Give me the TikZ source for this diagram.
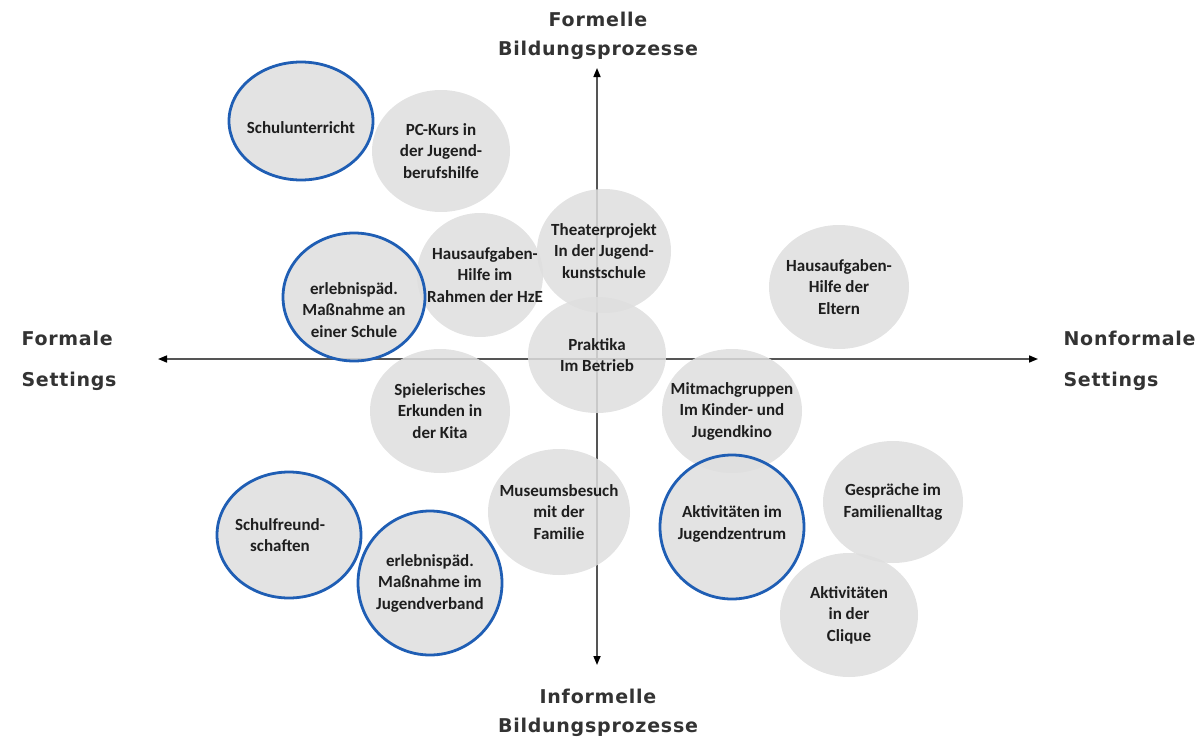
\documentclass[tikz,border=0pt]{standalone}
\usepackage{fontspec}
\setmainfont{Carlito}
\newfontfamily\axisfont[LetterSpace=4]{DejaVu Sans}
\usepackage{xcolor}
\usepackage{tikz}
\usetikzlibrary{shapes.geometric,arrows.meta}

\definecolor{ringblue}{RGB}{31,94,180}
\definecolor{bubblegray}{RGB}{222,222,222}
\definecolor{axisgray}{RGB}{85,85,85}
\definecolor{txtdark}{RGB}{30,30,30}

\tikzset{
  bubble/.style 2 args={ellipse, fill=bubblegray, fill opacity=0.85, inner sep=0pt,
    minimum width=#1, minimum height=#2},
  ringed/.style 2 args={bubble={#1}{#2}, draw=ringblue, line width=2.8pt},
  txt/.style={text=txtdark, text opacity=1, align=center, inner sep=0pt,
    font=\bfseries\fontsize{17}{21.5}\selectfont},
  axislabel/.style={text=black!80, align=center, font=\axisfont\bfseries\fontsize{19}{29}\selectfont},
  sidelabel/.style={axislabel, align=left, anchor=west, font=\axisfont\bfseries\fontsize{19}{41}\selectfont},
  axis/.style={draw=axisgray, line width=1.6pt,
    {Triangle[length=9pt,width=7pt,color=black]}-{Triangle[length=9pt,width=7pt,color=black]}}
}

\begin{document}
\begin{tikzpicture}[x=1pt, y=-1pt]
    \useasboundingbox (0,0) rectangle (1204,744);

    % axes
    \coordinate (west) at (158,359);
    \coordinate (east) at (1038,359);
    \coordinate (north) at (597,68);
    \coordinate (south) at (597,665);
    \draw[axis] (west) -- (east);
    \draw[axis] (north) -- (south);

    \node[axislabel] (formell) at (598,36) {Formelle\\Bildungsprozesse};
    \node[axislabel] (informell) at (598,713) {Informelle\\Bildungsprozesse};
    \node[sidelabel] (formal) at (18,361) {Formale\\Settings};
    \node[sidelabel] (nonformal) at (1060,361) {Nonformale\\Settings};

    % bubbles, blue rings mark the school and youth work settings
    \node[ringed={144}{118}, label={[txt, yshift=-7pt]center:Schulunterricht}] (unterricht) at (301,121) {};
    \node[bubble={138}{122}, label={[txt]center:{PC-Kurs in\\der Jugend-\\berufshilfe}}] (pckurs) at (441,151) {};
    \node[bubble={126}{124}, label={[txt, xshift=5pt]center:{Hausaufgaben-\\Hilfe im\\Rahmen der HzE}}] (hze) at (480,275) {};
    \node[bubble={134}{124}, label={[txt]center:{Theaterprojekt\\In der Jugend-\\kunstschule}}] (theater) at (604,251) {};
    \node[ringed={142}{128}, label={[txt, yshift=-13pt]center:{erlebnispäd.\\Maßnahme an\\einer Schule}}] (schule) at (354,297) {};
    \node[bubble={138}{116}, label={[txt]center:{Praktika\\Im Betrieb}}] (praktika) at (597,355) {};
    \node[bubble={140}{124}, label={[txt]center:{Hausaufgaben-\\Hilfe der\\Eltern}}] (eltern) at (839,287) {};
    \node[bubble={140}{124}, label={[txt]center:{Mitmachgruppen\\Im Kinder- und\\Jugendkino}}] (kino) at (732,411) {};
    \node[bubble={140}{124}, label={[txt]center:{Spielerisches\\Erkunden in\\der Kita}}] (kita) at (440,411) {};
    \node[bubble={142}{126}, label={[txt]center:{Museumsbesuch\\mit der\\Familie}}] (museum) at (559,512) {};
    \node[ringed={144}{126}, label={[txt, xshift=-9pt]center:{Schulfreund-\\schaften}}] (freunde) at (289,535) {};
    \node[ringed={144}{144}, label={[txt]center:{erlebnispäd.\\Maßnahme im\\Jugendverband}}] (verband) at (430,583) {};
    \node[ringed={144}{144}, label={[txt, yshift=3pt]center:{Aktivitäten im\\Jugendzentrum}}] (zentrum) at (732,527) {};
    \node[bubble={140}{122}, label={[txt]center:{Gespräche im\\Familienalltag}}] (familie) at (893,502) {};
    \node[bubble={138}{124}, label={[txt]center:{Aktivitäten\\in der\\Clique}}] (clique) at (849,615) {};
\end{tikzpicture}
\end{document}
